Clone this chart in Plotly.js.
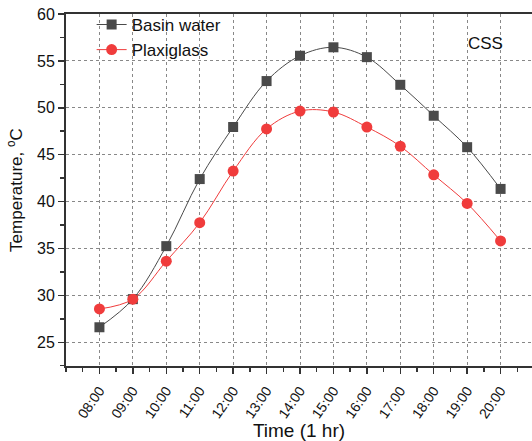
<!DOCTYPE html>
<html>
<head>
<meta charset="utf-8">
<script src="https://cdn.plot.ly/plotly-3.0.1.min.js"></script>
<style>html,body{margin:0;padding:0;background:#fff;}#chart{width:532px;height:441px;}</style>
</head>
<body>
<div id="chart"></div>
<script>
const timeLabels = ["08:00","09:00","10:00","11:00","12:00","13:00","14:00","15:00","16:00","17:00","18:00","19:00","20:00"];
const basinWater = [26.6, 29.6, 35.25, 42.4, 47.95, 52.85, 55.55, 56.45, 55.4, 52.45, 49.15, 45.8, 41.35];
const plaxiglass = [28.55, 29.6, 33.65, 37.75, 43.25, 47.75, 49.65, 49.55, 47.95, 45.9, 42.85, 39.8, 35.8];

const xIdx = timeLabels.map((_, i) => i);
const font = "Liberation Sans, Arial, sans-serif";

const traces = [
  {
    x: xIdx, y: basinWater, name: "Basin water", type: "scatter", mode: "lines+markers",
    line: {color: "#4a4a4a", width: 1, shape: "spline", smoothing: 1},
    marker: {symbol: "square", size: 10, color: "#4a4a4a"}
  },
  {
    x: xIdx, y: plaxiglass, name: "Plaxiglass", type: "scatter", mode: "lines+markers",
    line: {color: "#f03c3c", width: 1, shape: "spline", smoothing: 1},
    marker: {symbol: "circle", size: 11, color: "#f03c3c"}
  }
];

const minorX = [-1];
for (let i = -1; i < 13; i++) minorX.push(i + 0.5);

const layout = {
  width: 532, height: 441,
  margin: {l: 66, r: 0, t: 14, b: 75},
  paper_bgcolor: "#fff", plot_bgcolor: "#fff",
  font: {family: font, size: 16, color: "#111"},
  showlegend: true,
  legend: {x: 0.055, y: 1.02, xanchor: "left", yanchor: "top", bgcolor: "rgba(0,0,0,0)",
           font: {family: font, size: 17, color: "#111"}, tracegroupgap: 0, itemwidth: 30},
  xaxis: {
    range: [-1, 12.94], tickmode: "array", tickvals: xIdx, ticktext: timeLabels,
    tickangle: -55, ticks: "outside", ticklen: 6, tickwidth: 1.5, tickcolor: "#333",
    ticklabelstandoff: 3,
    showline: true, linecolor: "#333", linewidth: 2, mirror: true,
    showgrid: true, gridcolor: "#888", griddash: "dot", gridwidth: 1,
    zeroline: false,
    tickfont: {family: font, size: 14, color: "#111"},
    minor: {tickmode: "array", tickvals: minorX, ticks: "outside", ticklen: 4, tickwidth: 1.5, tickcolor: "#333", showgrid: false},
    title: {text: "Time (1 hr)", font: {family: font, size: 19, color: "#111"}, standoff: 2}
  },
  yaxis: {
    range: [22.47, 60], tickmode: "linear", tick0: 0, dtick: 5,
    ticks: "outside", ticklen: 6, tickwidth: 1.5, tickcolor: "#333",
    showline: true, linecolor: "#333", linewidth: 2,
    showgrid: true, gridcolor: "#888", griddash: "dot", gridwidth: 1,
    zeroline: false,
    tickfont: {family: font, size: 16, color: "#111"},
    minor: {tickmode: "linear", tick0: 0, dtick: 2.5, ticks: "outside", ticklen: 4, tickwidth: 1.5, tickcolor: "#333", showgrid: false},
    title: {text: "Temperature, <sup>o</sup>C", font: {family: font, size: 17, color: "#111"}, standoff: 10}
  },
  annotations: [
    {xref: "paper", yref: "paper", x: 0.9, y: 0.915, xanchor: "center", yanchor: "middle",
     text: "CSS", showarrow: false, font: {family: font, size: 17, color: "#111"}}
  ]
};

Plotly.newPlot("chart", traces, layout, {staticPlot: true, displayModeBar: false});
</script>
</body>
</html>
